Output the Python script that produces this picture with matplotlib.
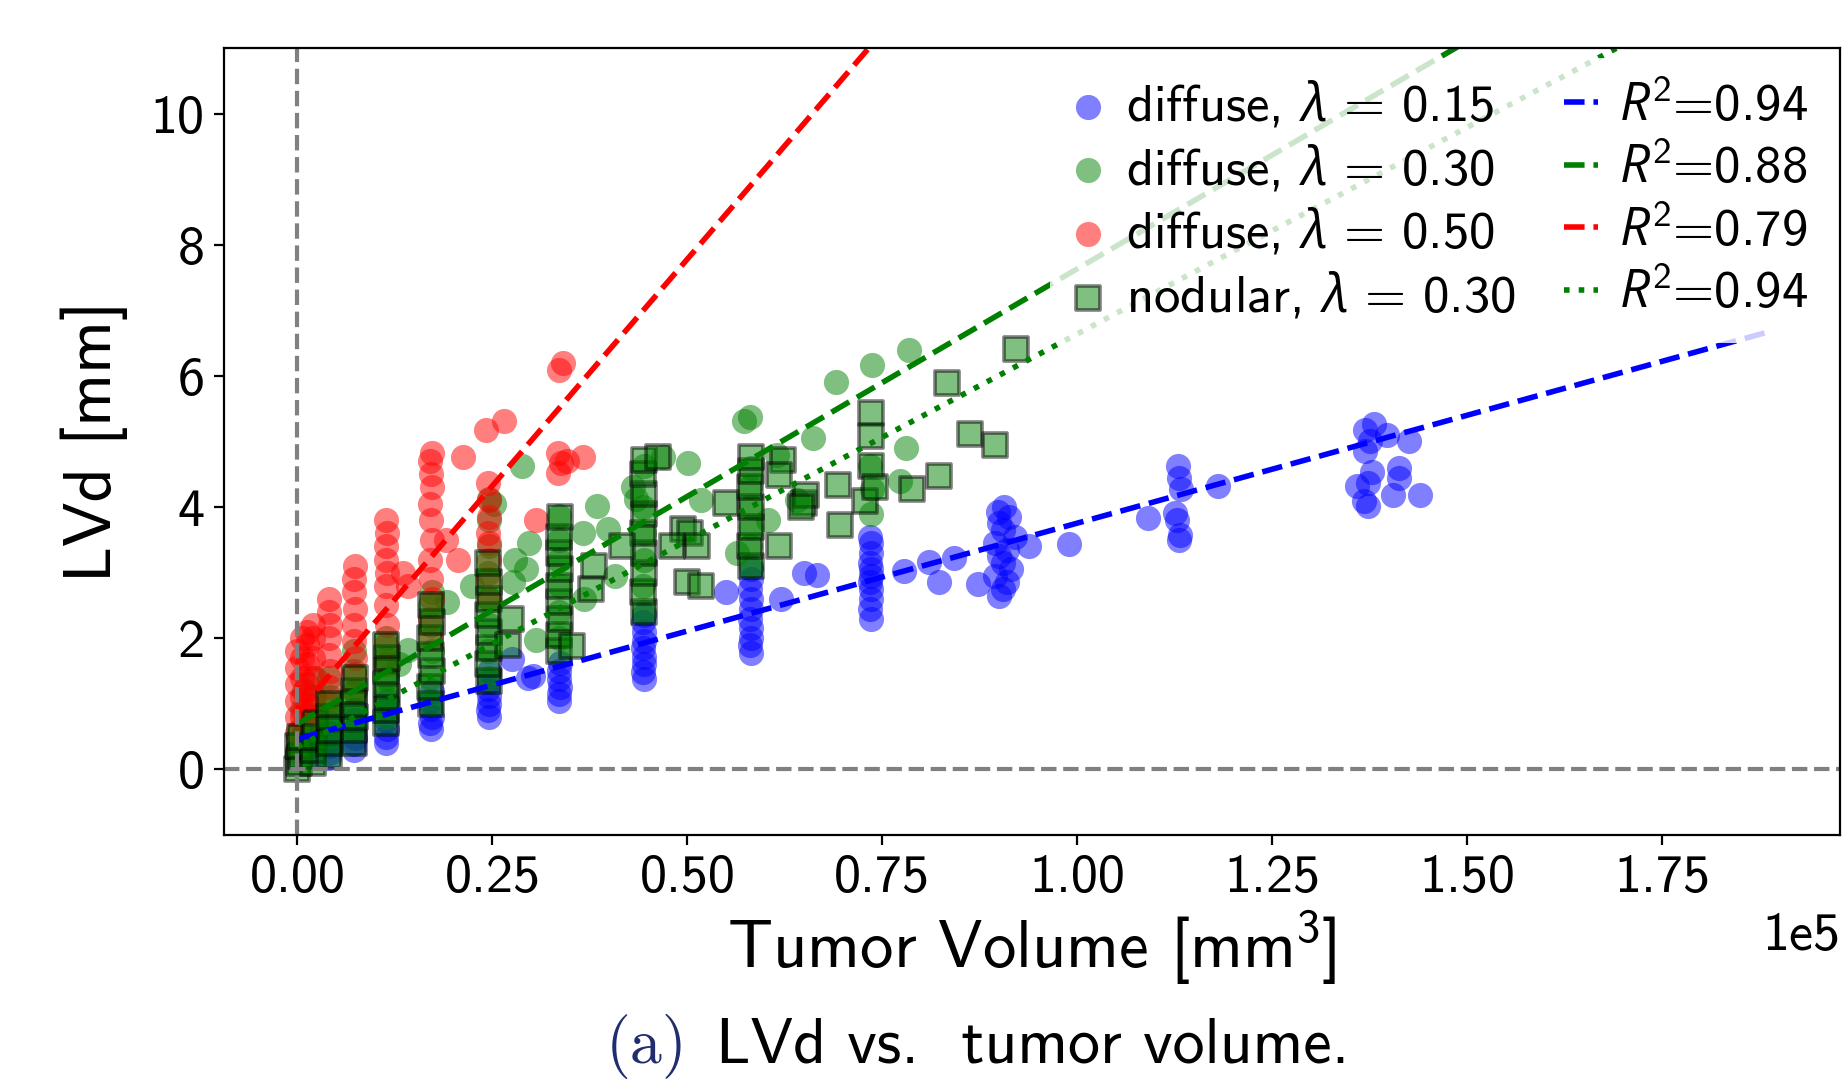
import matplotlib

matplotlib.use("Agg")
import matplotlib.pyplot as plt  # noqa: E402
from matplotlib.ticker import MultipleLocator  # noqa: E402

plt.rcParams["font.family"] = "cmss10"
plt.rcParams["mathtext.fontset"] = "custom"
plt.rcParams["mathtext.rm"] = "cmss10"
plt.rcParams["mathtext.it"] = "Open Sans:italic"
plt.rcParams["axes.unicode_minus"] = False

# tumor volume in units of 1e5 mm^3 (scaled to mm^3 below), LVd in mm
blue_x = [0.000, 0.003, 0.006, 0.009, 0.020, 0.020, 0.021, 0.022,
          0.041, 0.040, 0.042, 0.041, 0.040, 0.042,
          0.073, 0.072, 0.074, 0.073, 0.072, 0.074,
          0.114, 0.113, 0.115, 0.114, 0.113, 0.115,
          0.171, 0.170, 0.172, 0.171, 0.170, 0.172,
          0.245, 0.244, 0.246, 0.245, 0.244, 0.246, 0.245,
          0.336, 0.335, 0.337, 0.336, 0.335, 0.337,
          0.302, 0.275, 0.295,
          0.444, 0.443, 0.445, 0.444, 0.443, 0.445, 0.444, 0.443, 0.445,
          0.581, 0.580, 0.582, 0.581, 0.580, 0.582, 0.581, 0.580, 0.582, 0.581,
          0.549, 0.620, 0.650, 0.666,
          0.735, 0.734, 0.736, 0.735, 0.734, 0.736, 0.735, 0.734, 0.736, 0.735, 0.734,
          0.778, 0.810, 0.842, 0.823, 0.872,
          0.900, 0.905, 0.910, 0.895, 0.915, 0.905, 0.900, 0.910, 0.895, 0.920,
          0.905, 0.900, 0.912, 0.898, 0.906,
          0.938, 0.989,
          1.129, 1.130, 1.133, 1.125, 1.128, 1.131, 1.090, 1.181, 1.132,
          1.369, 1.380, 1.375, 1.369, 1.397, 1.425, 1.378, 1.412, 1.412, 1.358,
          1.373, 1.405, 1.440, 1.367, 1.373]
blue_y = [0.25, 0.35, 0.45, 0.55, 0.20, 0.35, 0.50, 0.62,
          0.18, 0.25, 0.35, 0.45, 0.55, 0.70,
          0.30, 0.38, 0.48, 0.60, 0.75, 0.90,
          0.40, 0.50, 0.62, 0.75, 0.90, 1.05,
          0.62, 0.70, 0.80, 0.92, 1.05, 1.20,
          0.80, 0.90, 1.00, 1.12, 1.22, 1.35, 1.50,
          1.05, 1.15, 1.25, 1.38, 1.50, 1.62,
          1.43, 1.68, 1.40,
          1.38, 1.48, 1.60, 1.72, 1.85, 1.95, 2.10, 2.25, 2.35,
          1.78, 1.90, 2.00, 2.15, 2.30, 2.45, 2.60, 2.75, 2.90, 3.05,
          2.70, 2.60, 3.00, 2.97,
          2.30, 2.45, 2.60, 2.75, 2.85, 2.95, 3.05, 3.15, 3.30, 3.45, 3.55,
          3.03, 3.16, 3.23, 2.85, 2.82,
          2.65, 2.75, 2.85, 2.95, 3.05, 3.15, 3.25, 3.35, 3.45, 3.55,
          3.65, 3.75, 3.85, 3.92, 4.00,
          3.40, 3.43,
          4.62, 4.44, 4.27, 3.91, 3.81, 3.50, 3.84, 4.32, 3.58,
          5.18, 5.26, 5.00, 4.85, 5.10, 5.00, 4.54, 4.60, 4.44, 4.32,
          4.37, 4.19, 4.19, 4.09, 4.01]

green_x = [0.000, 0.003, 0.006, 0.009, 0.020, 0.020, 0.021, 0.022,
           0.041, 0.040, 0.042, 0.041,
           0.073, 0.072, 0.074, 0.073, 0.072,
           0.114, 0.113, 0.115, 0.114, 0.113, 0.142, 0.130,
           0.171, 0.170, 0.172, 0.171, 0.170, 0.172, 0.192,
           0.245, 0.244, 0.246, 0.245, 0.244, 0.246, 0.245, 0.245,
           0.288, 0.224, 0.252,
           0.279, 0.297, 0.293, 0.276, 0.306, 0.336, 0.366, 0.384, 0.398, 0.407, 0.368,
           0.336, 0.335, 0.337, 0.336, 0.335,
           0.444, 0.443, 0.445, 0.444, 0.443, 0.430, 0.444,
           0.469, 0.501, 0.434,
           0.581, 0.580, 0.582, 0.581, 0.580, 0.582, 0.572, 0.580,
           0.661, 0.691, 0.517, 0.604, 0.563, 0.640, 0.615,
           0.735, 0.737, 0.734, 0.737, 0.784, 0.780, 0.773]
green_y = [0.30, 0.60, 0.90, 1.20, 0.40, 0.80, 1.10, 1.40,
           0.50, 0.80, 1.10, 1.40,
           0.60, 0.90, 1.20, 1.50, 1.80,
           0.80, 1.10, 1.40, 1.70, 2.00, 1.82, 1.60,
           1.00, 1.40, 1.80, 2.20, 2.50, 2.70, 2.55,
           1.40, 1.80, 2.20, 2.60, 3.00, 3.40, 3.80, 4.12,
           4.62, 2.80, 4.04,
           3.20, 3.45, 3.05, 2.85, 1.98, 3.86, 3.61, 4.01, 3.66, 2.95, 2.60,
           2.00, 2.40, 2.80, 3.20, 3.50,
           2.40, 2.80, 3.20, 3.60, 4.00, 4.31, 4.62,
           4.77, 4.67, 4.12,
           3.10, 3.40, 3.70, 4.00, 4.30, 4.60, 5.31, 5.38,
           5.05, 5.91, 4.11, 3.81, 3.30, 4.10, 4.80,
           3.90, 4.27, 4.63, 6.16, 6.39, 4.90, 4.40]

red_x = [0.000, 0.000, 0.000, 0.000, 0.000, 0.000, 0.000,
         0.006, 0.006, 0.006, 0.006, 0.006, 0.006,
         0.012, 0.012, 0.012, 0.012, 0.012, 0.012,
         0.020, 0.020, 0.020, 0.020, 0.020, 0.020,
         0.041, 0.040, 0.042, 0.041, 0.040, 0.042, 0.041, 0.040,
         0.073, 0.072, 0.074, 0.073, 0.072, 0.074, 0.073, 0.072, 0.074,
         0.114, 0.113, 0.115, 0.114, 0.113, 0.115, 0.114, 0.113, 0.115, 0.114,
         0.142, 0.135,
         0.171, 0.170, 0.172, 0.171, 0.170, 0.172, 0.171, 0.170, 0.172, 0.171, 0.170, 0.172,
         0.2125, 0.206, 0.190,
         0.245, 0.244, 0.246, 0.245, 0.244, 0.246, 0.245, 0.244, 0.242,
         0.265, 0.306,
         0.341, 0.336, 0.334, 0.338, 0.366, 0.334, 0.345]
red_y = [0.30, 0.55, 0.80, 1.05, 1.30, 1.55, 1.80,
         0.50, 0.80, 1.10, 1.40, 1.70, 2.00,
         0.70, 1.00, 1.30, 1.60, 1.90, 2.10,
         0.80, 1.10, 1.40, 1.70, 2.00, 2.20,
         1.00, 1.25, 1.50, 1.75, 2.00, 2.20, 2.40, 2.60,
         1.20, 1.45, 1.70, 1.95, 2.20, 2.45, 2.70, 2.90, 3.10,
         1.60, 1.90, 2.20, 2.50, 2.80, 3.00, 3.20, 3.40, 3.60, 3.80,
         2.79, 3.00,
         2.00, 2.30, 2.60, 2.90, 3.20, 3.50, 3.80, 4.05, 4.30, 4.50, 4.70, 4.83,
         4.77, 3.20, 3.50,
         2.60, 2.90, 3.20, 3.45, 3.61, 3.85, 4.10, 4.37, 5.18,
         5.31, 3.80,
         6.19, 6.09, 4.82, 4.67, 4.77, 4.52, 4.70]

nod_x = [0.000, 0.002, 0.004, 0.001, 0.003,
         0.020, 0.020, 0.021, 0.022,
         0.041, 0.040, 0.042, 0.041, 0.040,
         0.073, 0.072, 0.074, 0.073, 0.072, 0.074,
         0.114, 0.113, 0.115, 0.114, 0.113, 0.115, 0.114,
         0.171, 0.170, 0.172, 0.171, 0.170, 0.172, 0.171,
         0.245, 0.244, 0.246, 0.245, 0.244, 0.246, 0.245, 0.244, 0.274, 0.270,
         0.336, 0.335, 0.337, 0.336, 0.335, 0.337, 0.336, 0.335, 0.337,
         0.380, 0.376, 0.352,
         0.444, 0.443, 0.445, 0.444, 0.443, 0.445, 0.444, 0.443, 0.445,
         0.462, 0.494, 0.503, 0.512, 0.480, 0.499, 0.517, 0.416,
         0.581, 0.580, 0.582, 0.581, 0.580, 0.582, 0.581,
         0.622, 0.617, 0.549, 0.650, 0.618, 0.652, 0.696, 0.693, 0.646,
         0.735, 0.735, 0.735, 0.728, 0.740,
         0.788, 0.823, 0.833, 0.862, 0.895, 0.921]
nod_y = [0.00, 0.10, 0.20, 0.35, 0.50,
         0.10, 0.30, 0.50, 0.70,
         0.20, 0.40, 0.60, 0.80, 1.00,
         0.40, 0.60, 0.80, 1.00, 1.20, 1.40,
         0.70, 0.90, 1.10, 1.30, 1.50, 1.70, 1.90,
         1.00, 1.25, 1.50, 1.75, 2.00, 2.25, 2.50,
         1.35, 1.60, 1.85, 2.10, 2.35, 2.60, 2.85, 3.15, 2.29, 1.90,
         1.80, 2.05, 2.30, 2.55, 2.80, 3.05, 3.30, 3.55, 3.85,
         3.10, 2.75, 1.88,
         2.40, 2.70, 3.00, 3.30, 3.60, 3.90, 4.20, 4.50, 4.72,
         4.77, 3.66, 3.61, 3.40, 3.40, 2.85, 2.80, 3.40,
         3.10, 3.40, 3.70, 4.00, 4.30, 4.55, 4.77,
         4.72, 3.40, 4.06, 4.06, 4.49, 4.18, 3.73, 4.33, 4.00,
         5.44, 5.08, 4.63, 4.09, 4.30,
         4.27, 4.47, 5.89, 5.12, 4.94, 6.41]

# linear fits: LVd = intercept + slope * volume (volume in 1e5 mm^3)
fit_x = [0.0, 1.8836]
fit_intercepts = [0.465, 0.693, 0.866, 0.34]
fit_slopes = [3.29, 6.94, 13.83, 6.30]
fit_labels = [r"$R^2$=0.94", r"$R^2$=0.88", r"$R^2$=0.79", r"$R^2$=0.94"]
fit_colors = ["#0000ff", "#008000", "#ff0000", "#008000"]
fit_styles = ["--", "--", "--", ":"]

scatter_labels = [r"diffuse, $\lambda\,=\,0.15$", r"diffuse, $\lambda\,=\,0.30$",
                  r"diffuse, $\lambda\,=\,0.50$", r"nodular, $\lambda\,=\,0.30$"]

SCALE = 1e5

fig = plt.figure(figsize=(9.24, 5.41), dpi=200)
ax = fig.add_axes([0.1212, 0.2283, 0.8745, 0.7274])

circ = dict(s=82, alpha=0.5, linewidths=0, marker="o")
ax.scatter([v * SCALE for v in blue_x], blue_y, color="#0000ff", label=scatter_labels[0], **circ)
ax.scatter([v * SCALE for v in green_x], green_y, color="#008000", label=scatter_labels[1], **circ)
ax.scatter([v * SCALE for v in red_x], red_y, color="#ff0000", label=scatter_labels[2], **circ)
ax.scatter([v * SCALE for v in nod_x], nod_y, marker="s", s=72, facecolor="#008000",
           edgecolor="black", linewidths=1.3, alpha=0.5, label=scatter_labels[3])

for b, m, lab, c, ls in zip(fit_intercepts, fit_slopes, fit_labels, fit_colors, fit_styles):
    ax.plot([x * SCALE for x in fit_x], [b + m * x for x in fit_x],
            color=c, linestyle=ls, linewidth=2, label=lab)

ax.axhline(0, color="gray", linestyle="--", linewidth=1.5)
ax.axvline(0, color="gray", linestyle="--", linewidth=1.5)

ax.set_xlim(-0.0942 * SCALE, 1.978 * SCALE)
ax.set_ylim(-1, 11)
ax.xaxis.set_major_locator(MultipleLocator(25000))
ax.yaxis.set_major_locator(MultipleLocator(2))
ax.ticklabel_format(axis="x", style="sci", scilimits=(0, 0))
ax.tick_params(labelsize=19.5)
ax.xaxis.get_offset_text().set_fontsize(19.5)
ax.set_xlabel(r"Tumor Volume [mm$^3$]", fontsize=24, labelpad=2)
ax.set_ylabel("LVd [mm]", fontsize=24, labelpad=8)

leg = ax.legend(ncol=2, loc="upper right", fontsize=19, handlelength=0.65,
                handletextpad=0.4, columnspacing=0.9, labelspacing=0.24,
                borderaxespad=0.2, framealpha=0.8, scatterpoints=1)
leg.get_frame().set_edgecolor("white")
leg.get_frame().set_linewidth(0)

fig.text(688 / 1848, 0.018, "(a)", family="cmr10", color="#202d6e", fontsize=23,
         ha="right", va="baseline")
fig.text(716 / 1848, 0.018, "LVd vs.  tumor volume.", fontsize=23,
         ha="left", va="baseline")

fig.savefig("out.png", dpi=200)
